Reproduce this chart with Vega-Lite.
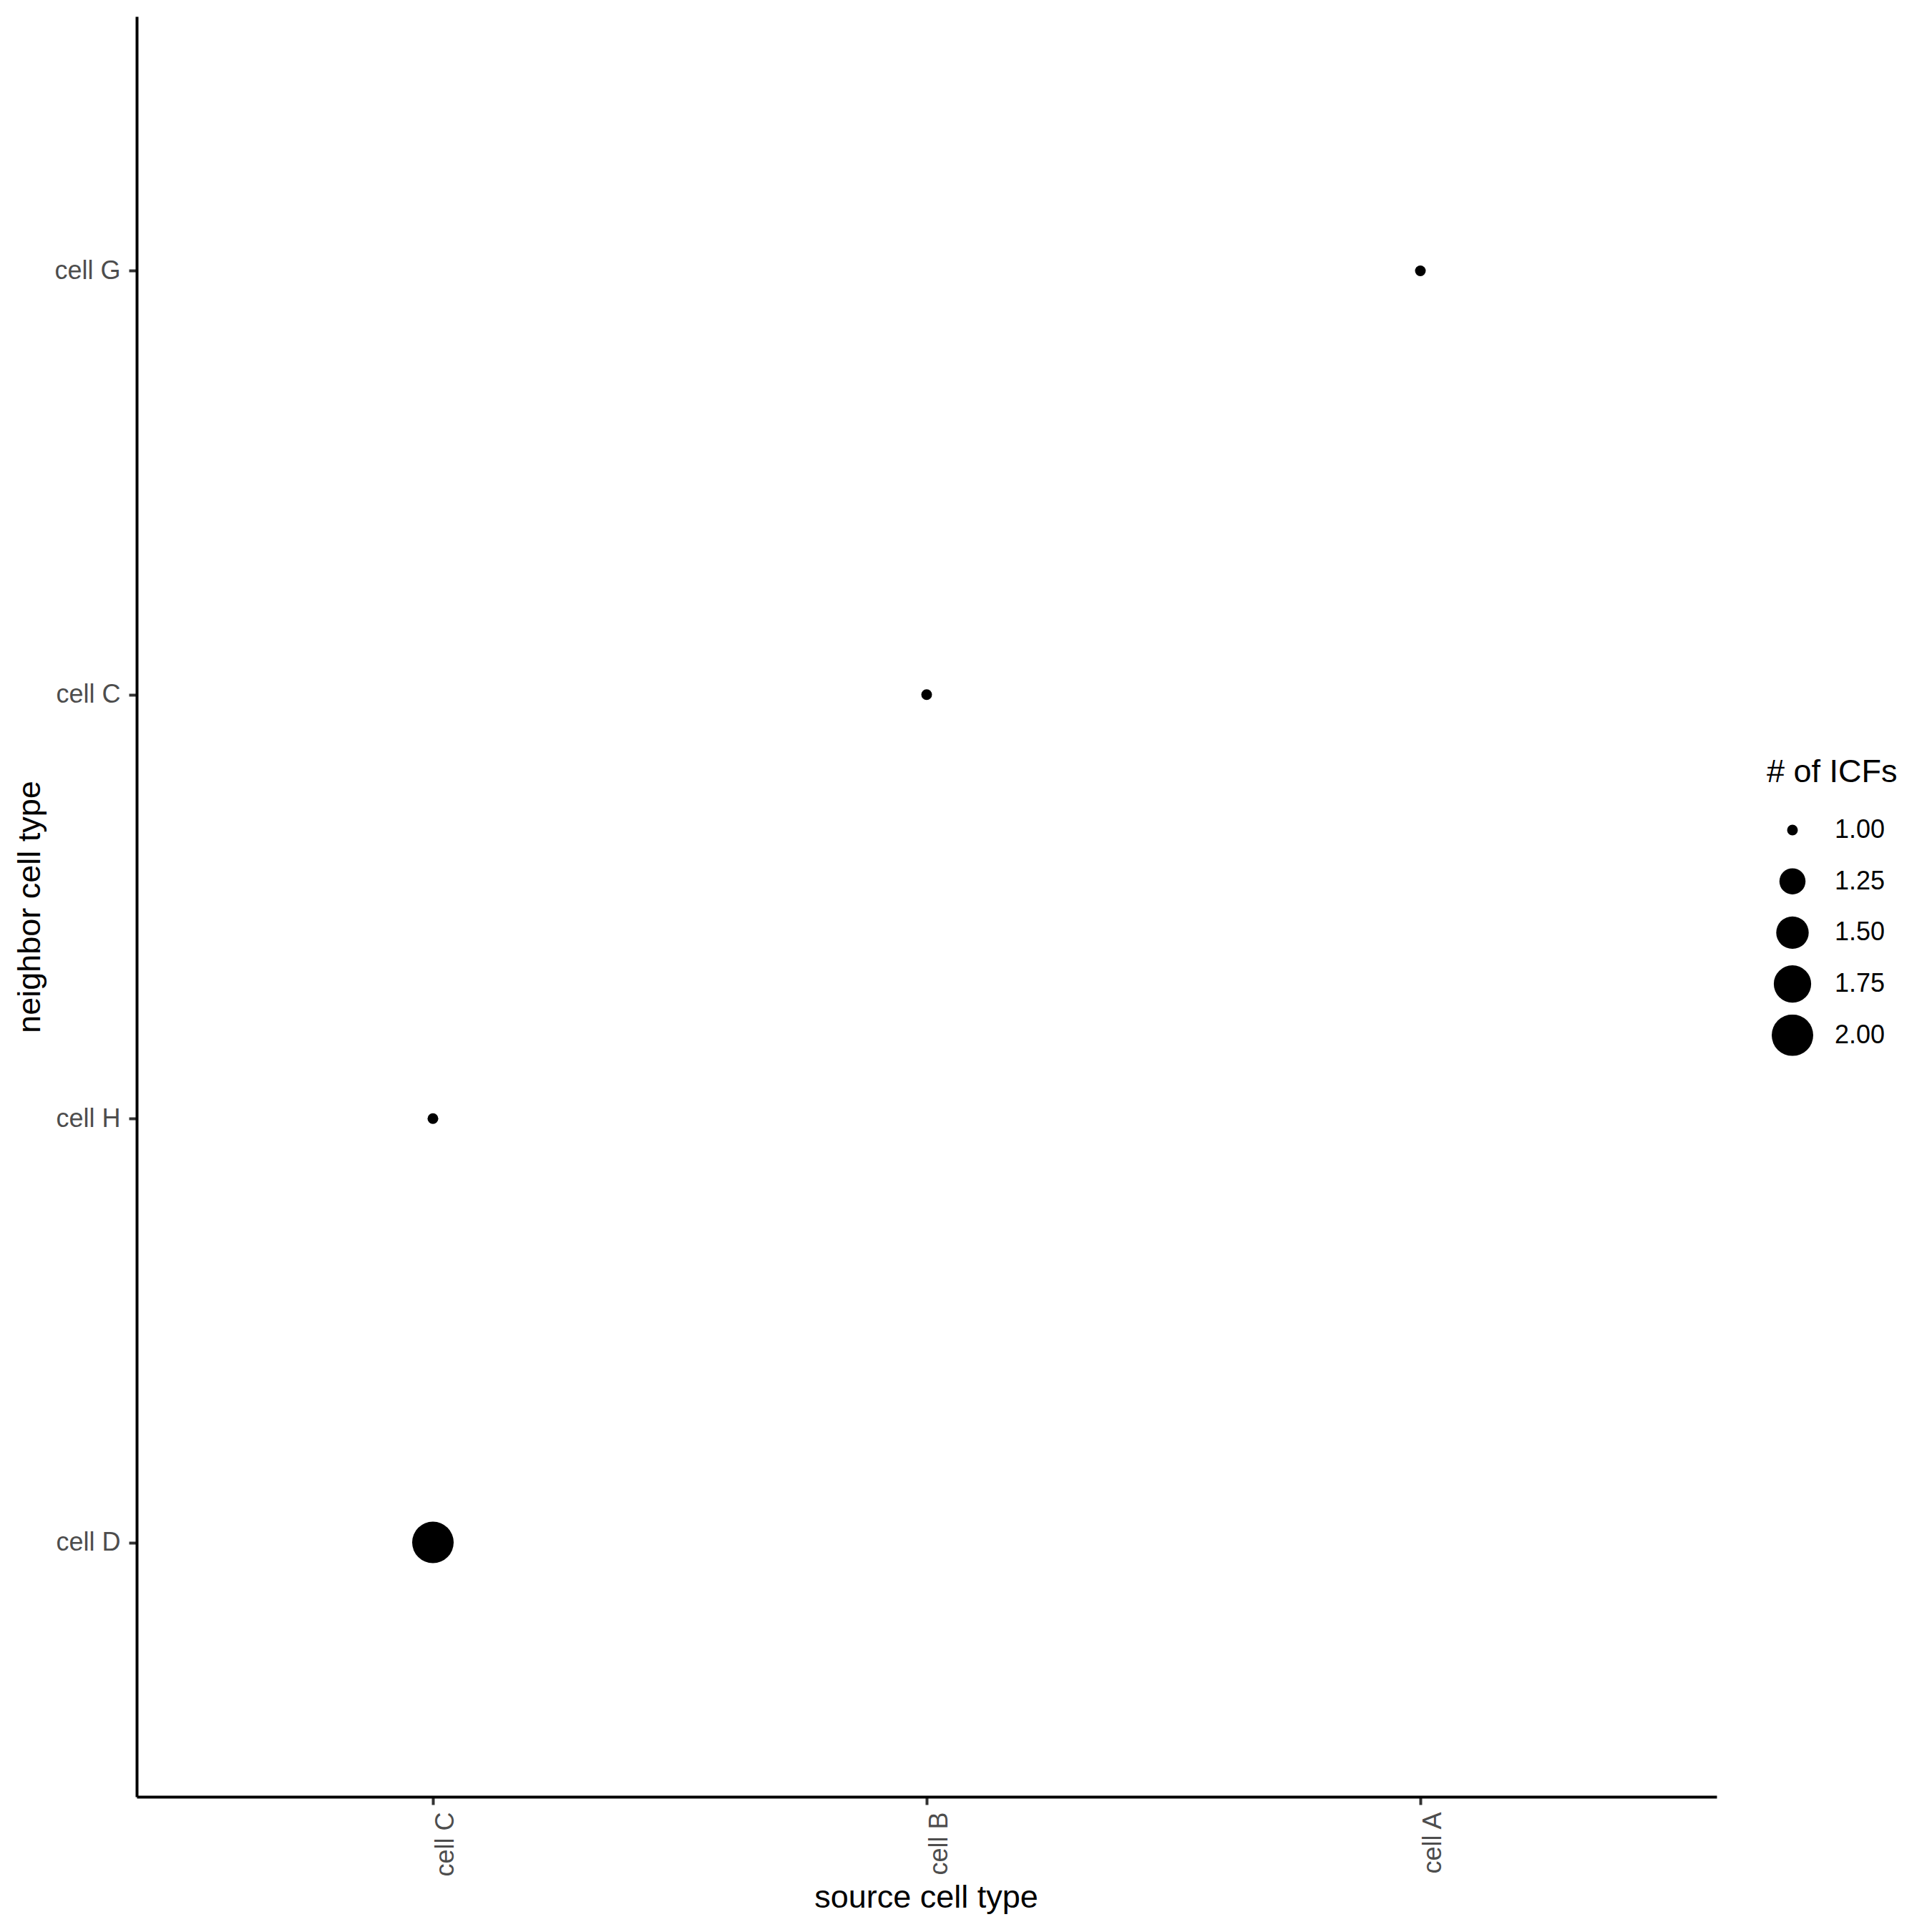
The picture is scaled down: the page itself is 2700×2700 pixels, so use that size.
{
  "$schema": "https://vega.github.io/schema/vega-lite/v6.json",
  "width": 2208,
  "height": 2488,
  "autosize": {"type": "none"},
  "padding": {"left": 191, "top": 23, "right": 301, "bottom": 189},
  "background": "white",
  "config": {"view": {"stroke": null}, "font": "Liberation Sans"},
  "data": {
    "values": [
      {"source": "cell C", "neighbor": "cell D", "n": 2},
      {"source": "cell C", "neighbor": "cell H", "n": 1},
      {"source": "cell B", "neighbor": "cell C", "n": 1},
      {"source": "cell A", "neighbor": "cell G", "n": 1}
    ]
  },
  "mark": {"type": "circle", "opacity": 1, "color": "black"},
  "encoding": {
    "x": {
      "field": "source",
      "type": "nominal",
      "scale": {"type": "point", "domain": ["cell C", "cell B", "cell A"], "padding": 0.6},
      "axis": {
        "title": "source cell type",
        "titleFontSize": 45,
        "titleFontWeight": "normal",
        "titleColor": "black",
        "titleX": 1103,
        "titleY": 154,
        "titleBaseline": "alphabetic",
        "labelAngle": -90,
        "labelAlign": "right",
        "labelBaseline": "top",
        "labelFontSize": 36,
        "labelColor": "#4D4D4D",
        "labelPadding": 10,
        "tickSize": 11,
        "tickWidth": 4,
        "tickColor": "#333333",
        "domainColor": "black",
        "domainWidth": 4,
        "grid": false
      }
    },
    "y": {
      "field": "neighbor",
      "type": "nominal",
      "scale": {"type": "point", "domain": ["cell G", "cell C", "cell H", "cell D"], "padding": 0.6},
      "axis": {
        "title": "neighbor cell type",
        "titleFontSize": 45,
        "titleFontWeight": "normal",
        "titleColor": "black",
        "titleX": -136,
        "titleY": 1244,
        "titleAngle": -90,
        "titleBaseline": "alphabetic",
        "labelFontSize": 36,
        "labelColor": "#4D4D4D",
        "labelPadding": 12,
        "tickSize": 11,
        "tickWidth": 4,
        "tickColor": "#333333",
        "domainColor": "black",
        "domainWidth": 4,
        "grid": false
      }
    },
    "size": {
      "field": "n",
      "type": "quantitative",
      "title": "# of ICFs",
      "scale": {"type": "linear", "domain": [1, 1.25, 1.5, 1.75, 2], "range": [225, 1332, 2061, 2729, 3364]},
      "legend": {
        "orient": "none",
        "legendX": 2278,
        "legendY": 1034,
        "padding": 0,
        "values": [1, 1.25, 1.5, 1.75, 2],
        "format": ".2f",
        "titleFontSize": 45,
        "titleFontWeight": "normal",
        "titleColor": "black",
        "titleLimit": 600,
        "titlePadding": 29,
        "labelFontSize": 36,
        "labelColor": "black",
        "labelOffset": 30,
        "clipHeight": 58,
        "rowPadding": 13.7,
        "symbolOffset": 7,
        "symbolType": "circle",
        "symbolFillColor": "black",
        "symbolStrokeWidth": 0
      }
    }
  }
}
